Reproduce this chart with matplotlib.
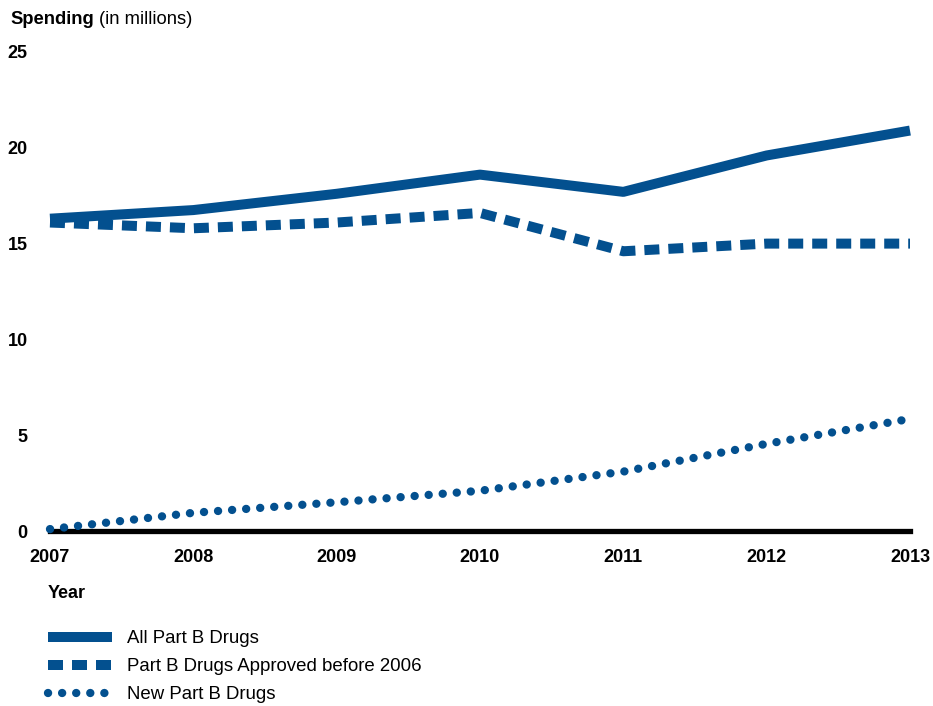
import numpy as np
import matplotlib as mpl
mpl.use('Agg')
import matplotlib.pyplot as plt
from matplotlib.lines import Line2D

plt.rcParams['font.family'] = ['Liberation Sans', 'DejaVu Sans']

years = [2007, 2008, 2009, 2010, 2011, 2012, 2013]
all_drugs = [16.3, 16.75, 17.6, 18.6, 17.7, 19.6, 20.9]
approved_before_2006 = [16.1, 15.8, 16.1, 16.6, 14.6, 15.0, 15.0]
new_drugs = [0.1, 0.95, 1.5, 2.1, 3.1, 4.55, 5.85]

blue = '#03508f'
dash_style = dict(color=blue, lw=7.2, dashes=(1.5, 0.9), dash_capstyle='butt')
dot_style = dict(color=blue, lw=6.0, dashes=(0.01, 1.68), dash_capstyle='round')
solid_style = dict(color=blue, lw=7.2, solid_capstyle='butt')

fig = plt.figure(figsize=(9.33, 7.06), dpi=100)
ax = fig.add_axes([50/933, 175/706, 860/933, 479/706])

ax.plot(years, all_drugs, **solid_style)
ax.plot(years, approved_before_2006, **dash_style)
ax.plot(years, new_drugs, **dot_style)

ax.axhline(0, color='black', lw=3.8, zorder=1)

ax.set_xlim(2007, 2013)
ax.set_ylim(0, 25)
ax.set_xticks(years)
ax.set_xticklabels([str(y) for y in years], fontsize=13, fontweight='bold')
ax.set_yticks([0, 5, 10, 15, 20, 25])
ax.set_yticklabels(['0', '5', '10', '15', '20', '25'], fontsize=13, fontweight='bold')
ax.tick_params(axis='both', length=0)
ax.tick_params(axis='x', pad=13)
ax.tick_params(axis='y', pad=16)
for s in ax.spines.values():
    s.set_visible(False)
for ln in ax.lines:
    ln.set_clip_on(False)

fig.text(10/933, 1 - 19/706, 'Spending', fontsize=13.2, fontweight='bold', va='center', ha='left')
fig.text(99/933, 1 - 19/706, '(in millions)', fontsize=13.2, va='center', ha='left')
fig.text(48/933, 1 - 593/706, 'Year', fontsize=13, fontweight='bold', va='center', ha='left')

handles = [Line2D([], [], **solid_style), Line2D([], [], **dash_style), Line2D([], [], **dot_style)]
labels = ['All Part B Drugs', 'Part B Drugs Approved before 2006', 'New Part B Drugs']
fig.legend(handles, labels, loc='upper left', bbox_to_anchor=(48/933, 1 - 630/706),
           frameon=False, fontsize=13.4, handlelength=3.45, handletextpad=0.8,
           labelspacing=0.6, borderaxespad=0, borderpad=0)

fig.savefig('out.png', dpi=100)
